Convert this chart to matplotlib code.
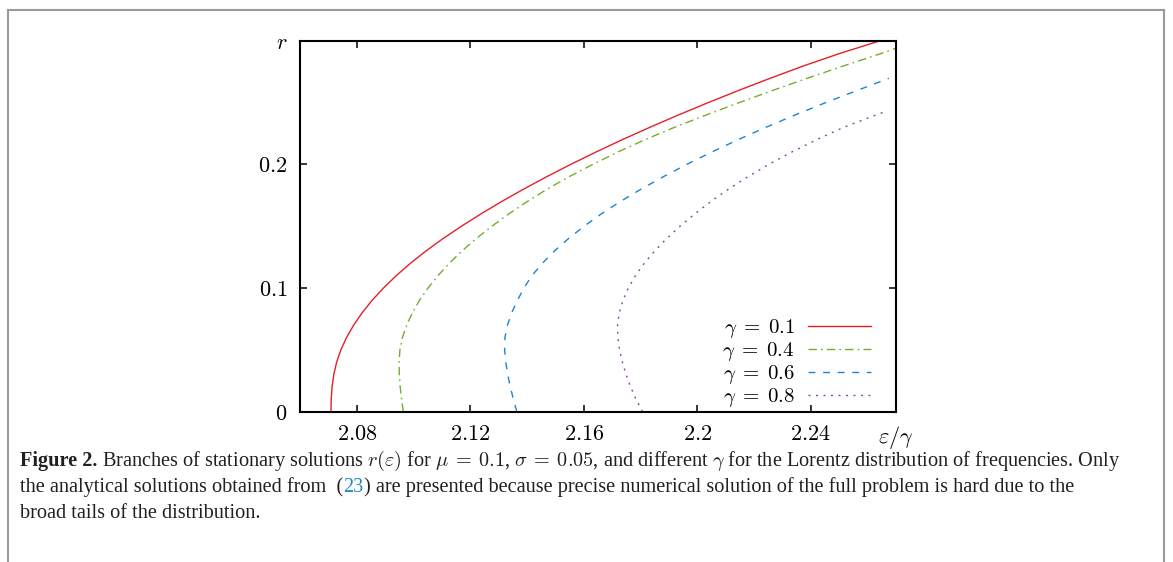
import numpy as np
import matplotlib
matplotlib.use('Agg')
import matplotlib.pyplot as plt
from matplotlib.lines import Line2D

plt.rcParams['mathtext.fontset'] = 'cm'

# branches: r values and the eps/gamma where each branch sits
red_r = [0.0, 0.01, 0.02, 0.03, 0.04, 0.05, 0.06, 0.07, 0.08, 0.09, 0.10, 0.11, 0.12, 0.13, 0.14, 0.15,
         0.16, 0.17, 0.18, 0.19, 0.20, 0.21, 0.22, 0.23, 0.24, 0.25, 0.26, 0.27, 0.28, 0.29, 0.30]
red_eps = [2.0709, 2.0710, 2.0713, 2.0719, 2.0729, 2.0744, 2.0764, 2.0789, 2.0819, 2.0854, 2.0894,
           2.0939, 2.0989, 2.1044, 2.1104, 2.1169, 2.1238, 2.1311, 2.1388, 2.1469, 2.1554, 2.1643,
           2.1736, 2.1833, 2.1934, 2.2039, 2.2148, 2.2261, 2.2379, 2.2506, 2.2645]

green_r = [0.0, 0.01, 0.02, 0.03, 0.04, 0.05, 0.06, 0.07, 0.08, 0.09, 0.10, 0.11, 0.12, 0.13, 0.14, 0.15,
           0.16, 0.17, 0.18, 0.19, 0.20, 0.21, 0.22, 0.23, 0.24, 0.25, 0.26, 0.27, 0.28, 0.29, 0.294]
green_eps = [2.0964, 2.0958, 2.0953, 2.0950, 2.0949, 2.0952, 2.0961, 2.0976, 2.0996, 2.1021, 2.1051,
             2.1086, 2.1126, 2.1171, 2.1221, 2.1276, 2.1336, 2.1401, 2.1471, 2.1548, 2.1632, 2.1720,
             2.1816, 2.1920, 2.2032, 2.2148, 2.2268, 2.2392, 2.2520, 2.2652, 2.2700]

blue_r = [0.0, 0.01, 0.02, 0.03, 0.04, 0.05, 0.06, 0.07, 0.08, 0.09, 0.10, 0.11, 0.12, 0.13, 0.14, 0.15,
          0.16, 0.17, 0.18, 0.19, 0.20, 0.21, 0.22, 0.23, 0.24, 0.25, 0.26, 0.2696]
blue_eps = [2.1364, 2.1352, 2.1341, 2.1332, 2.1325, 2.1321, 2.1322, 2.1331, 2.1346, 2.1366, 2.1389,
            2.1417, 2.1454, 2.1497, 2.1546, 2.1601, 2.1662, 2.1729, 2.1802, 2.1880, 2.1963, 2.2051,
            2.2144, 2.2242, 2.2345, 2.2453, 2.2566, 2.2675]

purple_r = [0.0, 0.01, 0.02, 0.03, 0.04, 0.05, 0.06, 0.07, 0.08, 0.09, 0.10, 0.11, 0.12, 0.13, 0.14,
            0.15, 0.16, 0.17, 0.18, 0.19, 0.20, 0.21, 0.22, 0.23, 0.24, 0.2433]
purple_eps = [2.1807, 2.1784, 2.1765, 2.1749, 2.1736, 2.1726, 2.1720, 2.1719, 2.1725, 2.1738, 2.1757,
              2.1782, 2.1813, 2.1850, 2.1892, 2.1939, 2.1991, 2.2048, 2.2110, 2.2178, 2.2252, 2.2333,
              2.2421, 2.2516, 2.2630, 2.2670]

labels = [r'$\gamma\;=\;0.1$', r'$\gamma\;=\;0.4$', r'$\gamma\;=\;0.6$', r'$\gamma\;=\;0.8$']
xticks = [2.08, 2.12, 2.16, 2.2, 2.24, 2.27]
xticklabels = ['$2.08$', '$2.12$', '$2.16$', '$2.2$', '$2.24$', r'$\varepsilon/\gamma$']
yticks = [0, 0.1, 0.2, 0.3]
yticklabels = ['$0$', '$0.1$', '$0.2$', '$r$']

W, H = 1173, 562
fig = plt.figure(figsize=(W / 100, H / 100), dpi=100)
ax = fig.add_axes([300 / W, 1 - 411.7 / H, 596 / W, 371 / H])

ax.plot(red_eps, red_r, color='#e4202a', lw=1.0, label=labels[0])
ax.plot(green_eps, green_r, color='#76ad2f', lw=1.0, linestyle=(0, (6, 3, 1.2, 3)), label=labels[1])
ax.plot(blue_eps, blue_r, color='#1a86d0', lw=1.0, linestyle=(0, (5, 5.5)), label=labels[2])
ax.plot(purple_eps, purple_r, color='#8c3fa8', lw=1.0, linestyle=(0, (1.4, 4)), label=labels[3])

ax.set_xlim(2.06, 2.27)
ax.set_ylim(0, 0.3)
ax.set_xticks(xticks)
ax.set_xticklabels(xticklabels)
ax.set_yticks(yticks)
ax.set_yticklabels(yticklabels)
ax.tick_params(direction='in', length=5, width=1.1, labelsize=16, pad=9,
               top=True, right=True)
for s in ax.spines.values():
    s.set_linewidth(1.5)

ax.legend(loc='lower right', bbox_to_anchor=(0.958, 0.007), frameon=False,
          markerfirst=False, fontsize=15, handlelength=3.0, handletextpad=0.65,
          labelspacing=0.0, borderaxespad=0, borderpad=0)

# page frame
grey = '#9a9a9a'
fig.add_artist(Line2D([8 / W, 8 / W], [0, 1 - 10 / H], color=grey, lw=1.5, transform=fig.transFigure))
fig.add_artist(Line2D([8 / W, 1164 / W], [1 - 10 / H, 1 - 10 / H], color=grey, lw=1.5, transform=fig.transFigure))
fig.add_artist(Line2D([1164 / W, 1164 / W], [0, 1 - 10 / H], color=grey, lw=1.5, transform=fig.transFigure))

# caption, pieces laid out one after another
renderer = fig.canvas.get_renderer()
cap = dict(family='Liberation Serif', fontsize=14.6, color='#231f20', va='baseline')


def put(x_px, y_px, s, **kw):
    opts = dict(cap)
    opts.update(kw)
    t = fig.text(x_px / W, 1 - y_px / H, s, **opts)
    return t.get_window_extent(renderer).x1


x = put(20, 466, 'Figure 2.', weight='bold')
put(x, 466, r' Branches of stationary solutions $r(\varepsilon)$ for $\mu\:=\:0.1$, $\sigma\:=\:0.05$, '
            r'and different $\gamma$ for the Lorentz distribution of frequencies. Only')
x = put(20, 492, 'the analytical solutions obtained from  (')
x = put(x, 492, '23', color='#1e8bc3')
put(x, 492, ') are presented because precise numerical solution of the full problem is hard due to the')
put(20, 518, 'broad tails of the distribution.')

fig.savefig('out.png', dpi=100)
